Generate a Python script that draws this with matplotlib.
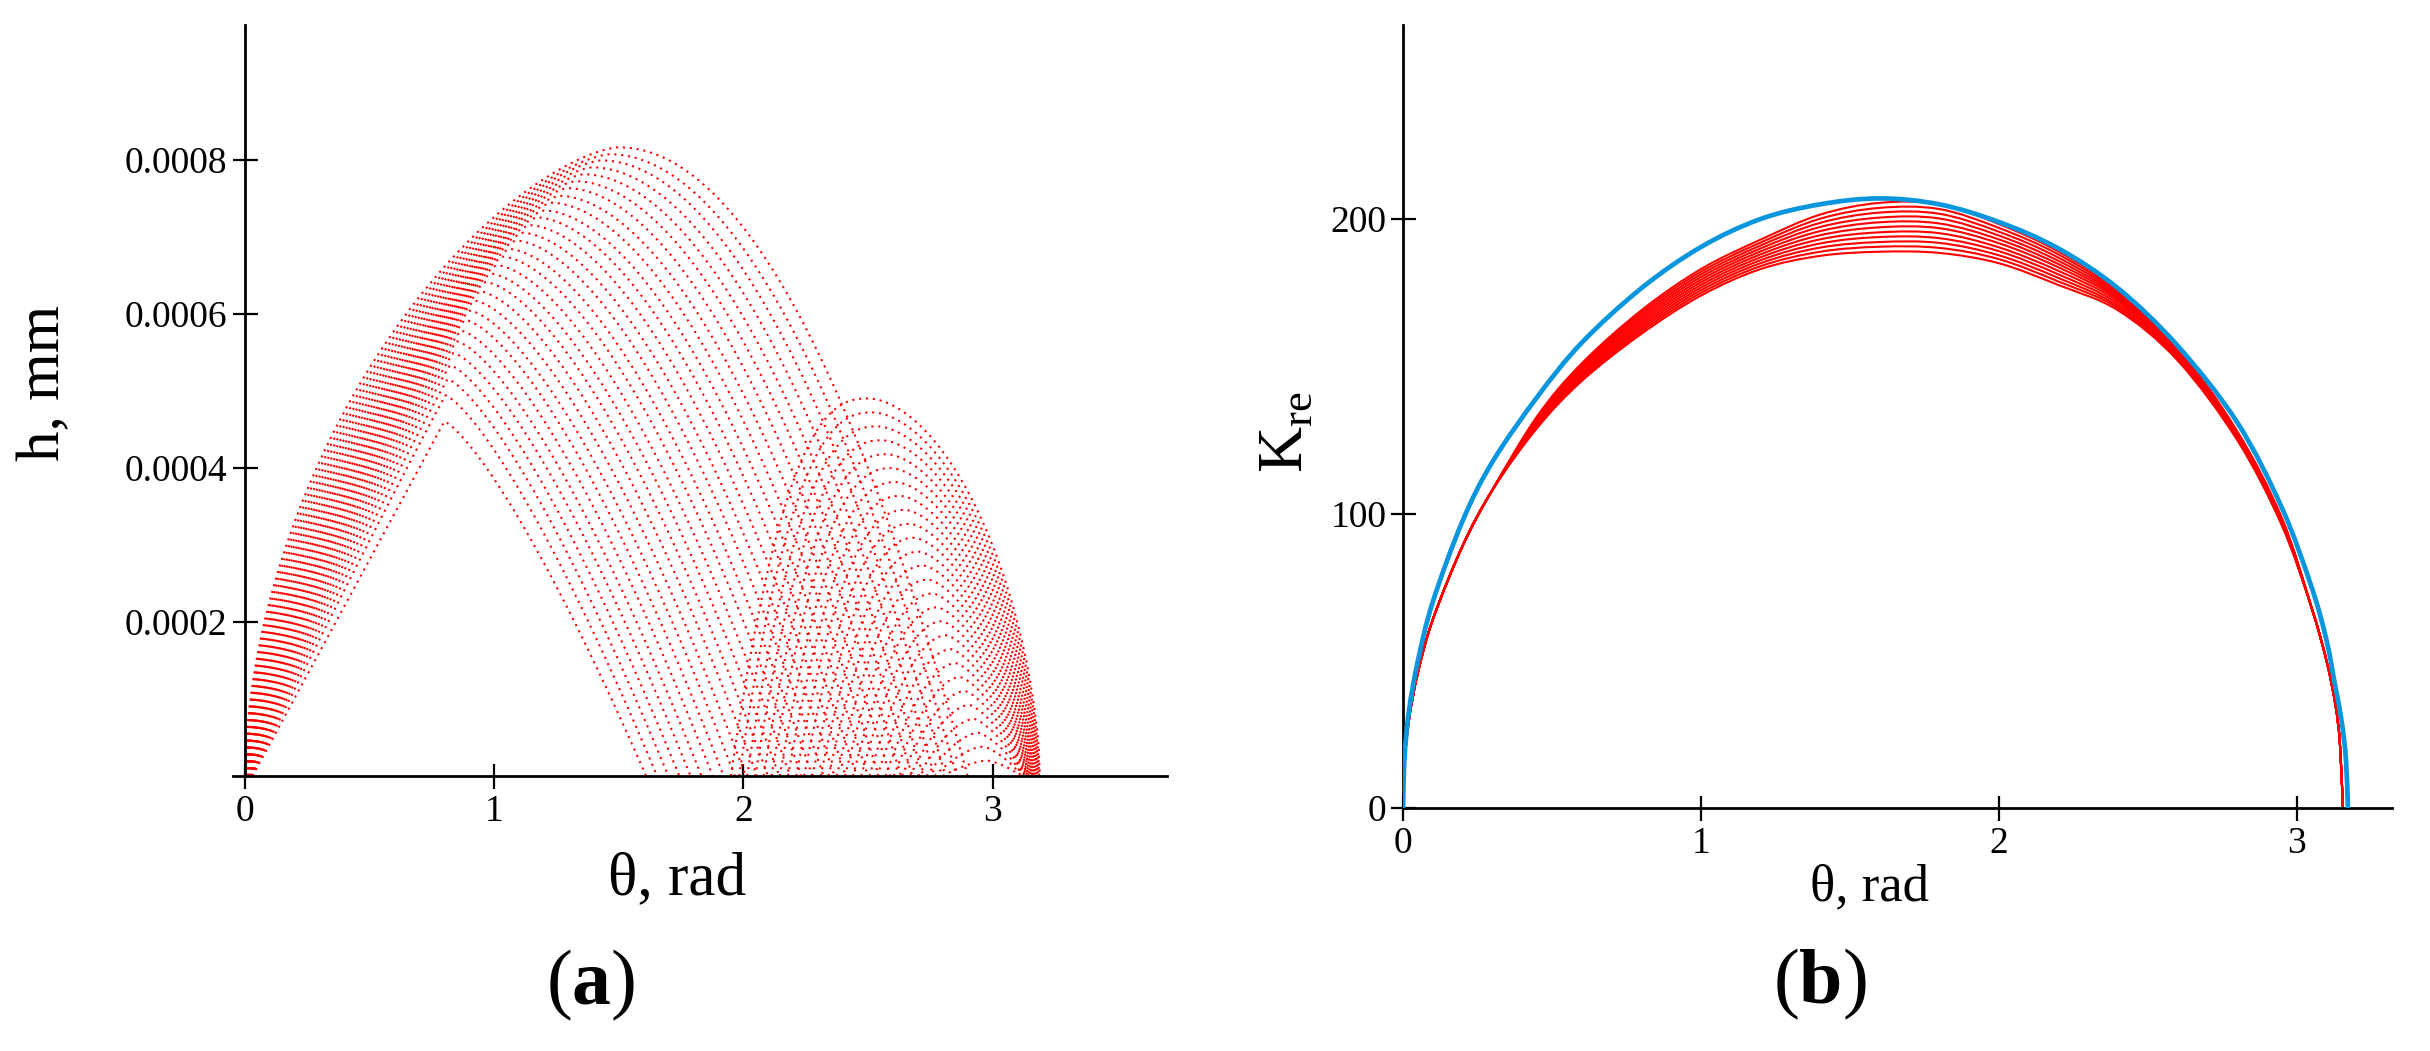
import numpy as np
import matplotlib
matplotlib.use("Agg")
import matplotlib.pyplot as plt
from matplotlib.path import Path
from matplotlib.patches import PathPatch

plt.rcParams["font.family"] = ["Liberation Serif", "DejaVu Serif"]
plt.rcParams["mathtext.fontset"] = "custom"
plt.rcParams["mathtext.rm"] = "Liberation Serif"
plt.rcParams["mathtext.bf"] = "Liberation Serif:bold"

# ==================================================
# DATA (a): h(theta)
# family A = humps that start at theta ~ 0 (lowest -> top)
# ==================================================
a_start = [0.030, 0.029, 0.028, 0.027, 0.026, 0.025, 0.024, 0.023, 0.022, 0.021,
           0.020, 0.019, 0.018, 0.017, 0.016, 0.015, 0.014, 0.013, 0.012, 0.011,
           0.010, 0.009, 0.008, 0.007, 0.006, 0.005, 0.004, 0.003, 0.001, 0.000]
a_peak_theta = [0.800, 0.804, 0.813, 0.823, 0.836, 0.850, 0.866, 0.883, 0.901, 0.921,
                0.942, 0.964, 0.986, 1.010, 1.035, 1.060, 1.087, 1.114, 1.142, 1.171,
                1.201, 1.231, 1.262, 1.294, 1.327, 1.360, 1.394, 1.429, 1.464, 1.500]
a_peak_h = [0.000460, 0.000494, 0.000515, 0.000533, 0.000549, 0.000564, 0.000578, 0.000592,
            0.000604, 0.000617, 0.000629, 0.000641, 0.000652, 0.000663, 0.000674, 0.000684,
            0.000695, 0.000705, 0.000715, 0.000725, 0.000734, 0.000744, 0.000753, 0.000763,
            0.000772, 0.000781, 0.000790, 0.000799, 0.000807, 0.000816]
a_end = [1.610, 1.654, 1.699, 1.743, 1.788, 1.832, 1.877, 1.921, 1.966, 2.010,
         2.055, 2.099, 2.144, 2.188, 2.233, 2.277, 2.322, 2.366, 2.411, 2.455,
         2.500, 2.544, 2.589, 2.633, 2.678, 2.722, 2.767, 2.811, 2.856, 2.900]

# family B = humps that end at theta ~ pi (lowest -> top)
b_start = [2.800, 2.767, 2.735, 2.702, 2.669, 2.637, 2.604, 2.571, 2.538, 2.506,
           2.473, 2.440, 2.408, 2.375, 2.342, 2.310, 2.277, 2.244, 2.212, 2.179,
           2.146, 2.113, 2.081, 2.048, 2.015, 1.983, 1.950]
b_peak_theta = [2.980, 2.962, 2.943, 2.925, 2.906, 2.888, 2.869, 2.851, 2.832, 2.814,
                2.795, 2.777, 2.758, 2.740, 2.722, 2.703, 2.685, 2.666, 2.648, 2.629,
                2.611, 2.592, 2.574, 2.555, 2.537, 2.518, 2.500]
b_peak_h = [0.0000200, 0.0000381, 0.0000561, 0.0000742, 0.0000923, 0.0001104, 0.0001285,
            0.0001465, 0.0001646, 0.0001827, 0.0002008, 0.0002189, 0.0002369, 0.0002550,
            0.0002731, 0.0002911, 0.0003092, 0.0003273, 0.0003454, 0.0003635, 0.0003815,
            0.0003996, 0.0004177, 0.0004358, 0.0004538, 0.0004719, 0.0004900]
b_end = [3.110, 3.113, 3.116, 3.119, 3.122, 3.125, 3.128, 3.132, 3.135, 3.138,
         3.141, 3.144, 3.147, 3.150, 3.153, 3.156, 3.159, 3.162, 3.165, 3.168,
         3.172, 3.175, 3.178, 3.181, 3.184, 3.187, 3.190]

# ==================================================
# DATA (b): K_re(theta)
# ==================================================
blue_theta = [0, 0.005, 0.02, 0.05, 0.1, 0.2, 0.3, 0.45, 0.6, 0.8, 1.0, 1.2, 1.4, 1.6,
              1.8, 2.0, 2.2, 2.4, 2.6, 2.8, 2.95, 3.05, 3.1, 3.13, 3.15, 3.165, 3.172]
blue_k = [0, 17, 33, 50, 70, 97.5, 117.5, 139.5, 158, 176.5, 190.5, 200, 205, 207,
          205, 199, 190, 176.5, 157, 131, 102, 75, 57, 41, 30, 17, 0]

red_left_theta = [0, 0.005, 0.02, 0.05, 0.1, 0.2, 0.3]
red_left_k = [0, 15, 30, 46, 64, 89, 108]
red_mid_theta = [0.45, 0.6, 0.8, 1.0, 1.2, 1.4, 1.6, 1.8, 2.0, 2.2, 2.4, 2.6, 2.8, 2.95]
red_mid_k = [
    [133.0, 151.0, 169.0, 183.0, 193.0, 201.5, 205.5, 205.0, 198.3, 189.0, 175.8, 156.4, 128.0, 98.5],
    [132.6, 150.4, 168.2, 182.1, 192.0, 200.1, 203.8, 203.4, 197.0, 188.0, 175.2, 156.1, 127.7, 98.3],
    [132.2, 149.8, 167.4, 181.2, 191.0, 198.7, 202.2, 201.8, 195.7, 186.9, 174.6, 155.7, 127.4, 98.0],
    [131.8, 149.2, 166.6, 180.3, 190.0, 197.3, 200.5, 200.2, 194.4, 185.8, 174.0, 155.3, 127.1, 97.8],
    [131.4, 148.6, 165.8, 179.4, 189.0, 195.9, 198.9, 198.5, 193.1, 184.7, 173.4, 154.9, 126.8, 97.5],
    [131.0, 148.0, 165.0, 178.5, 188.0, 194.5, 197.2, 196.9, 191.8, 183.6, 172.8, 154.5, 126.5, 97.3],
    [130.6, 147.4, 164.2, 177.6, 187.0, 193.1, 195.5, 195.2, 190.4, 182.4, 172.1, 154.1, 126.2, 97.0],
    [130.2, 146.8, 163.4, 176.7, 186.0, 191.7, 193.9, 193.5, 189.1, 181.2, 171.3, 153.7, 125.9, 96.8],
    [129.8, 146.2, 162.6, 175.8, 185.0, 190.3, 192.2, 191.9, 187.7, 180.0, 170.5, 153.2, 125.6, 96.5],
    [129.4, 145.6, 161.8, 174.9, 184.0, 188.9, 190.6, 190.2, 186.4, 178.8, 169.8, 152.6, 125.3, 96.3],
    [129.0, 145.0, 161.0, 174.0, 183.0, 187.5, 188.9, 188.5, 185.0, 177.6, 169.0, 152.0, 125.0, 96.0],
]
red_right_theta = [3.05, 3.1, 3.13, 3.145, 3.155]
red_right_k = [68, 50, 35, 22, 0]


def side(u, m, a):
    return (1 - (1 - u) ** m) ** a


def hump(s, p, hp, e, mL, aL, mR, aR, n=160):
    u = np.linspace(0, 1, n)
    xl = s + (p - s) * u
    yl = hp * side(u, mL, aL)
    u2 = np.linspace(1, 0, n)[1:]
    xr = e - (e - p) * u2
    yr = hp * side(u2, mR, aR)
    return np.r_[xl, xr], np.r_[yl, yr]


def smooth_path(xs, ys):
    # smooth curve through the read points (cubic Bezier segments)
    pts = np.column_stack([xs, ys]).astype(float)
    verts = [pts[0]]
    codes = [Path.MOVETO]
    for i in range(len(pts) - 1):
        p0 = pts[i - 1] if i > 0 else pts[i]
        p1 = pts[i]
        p2 = pts[i + 1]
        p3 = pts[i + 2] if i + 2 < len(pts) else pts[i + 1]
        verts += [p1 + (p2 - p0) / 6, p2 - (p3 - p1) / 6, p2]
        codes += [Path.CURVE4] * 3
    return Path(verts, codes)


fig = plt.figure(figsize=(24.3, 10.51), dpi=100)
ax1 = fig.add_axes([0.09588, 0.26165, 0.38436, 0.71456])
ax2 = fig.add_axes([0.57737, 0.23121, 0.40700, 0.74501])

# ---------- (a) ----------
dots = (0, (1, 2.3))
na = len(a_peak_h)
for i in range(na):
    t = i / (na - 1)
    x, y = hump(a_start[i], a_peak_theta[i], a_peak_h[i], a_end[i],
                1 + 0.5 * t, 1 - 0.45 * t, 1.3 + 0.7 * t, 1.0)
    ax1.plot(x, y, color="red", lw=1.5, linestyle=dots)

nb = len(b_peak_h)
for i in range(nb):
    t = i / (nb - 1)
    x, y = hump(b_start[i], b_peak_theta[i], b_peak_h[i], b_end[i],
                1.6 + 0.9 * t, 1.0, 1.3 + 0.5 * t, 0.8 - 0.2 * t)
    ax1.plot(x, y, color="red", lw=1.5, linestyle=dots)

# ---------- (b) ----------
for row in red_mid_k:
    pth = smooth_path(red_left_theta + red_mid_theta + red_right_theta,
                      red_left_k + row + red_right_k)
    ax2.add_patch(PathPatch(pth, fill=False, edgecolor="#ff0000", lw=1.5))
ax2.add_patch(PathPatch(smooth_path(blue_theta, blue_k), fill=False,
                        edgecolor="#0a96dc", lw=3.4, zorder=5))

# axes styling
for ax in (ax1, ax2):
    ax.spines["top"].set_visible(False)
    ax.spines["right"].set_visible(False)
    ax.spines["left"].set_linewidth(2)
    ax.spines["bottom"].set_linewidth(2)
    ax.tick_params(direction="inout", length=18, width=1.6, labelsize=27, pad=4)
    ax.set_xticks([0, 1, 2, 3])
    ax.set_xticklabels(["0", "1", "2", "3"])
    ax.patch.set_alpha(0)

ax1.set_xlim(-0.048, 3.70)
ax1.set_ylim(0, 0.0009747)
ax1.spines["left"].set_position(("data", 0))
ax1.set_yticks([0.0002, 0.0004, 0.0006, 0.0008])
ax1.set_yticklabels(["0.0002", "0.0004", "0.0006", "0.0008"])

ax2.set_xlim(0, 3.32)
ax2.set_ylim(0, 265.9)
ax2.set_yticks([0, 100, 200])
ax2.set_yticklabels(["0", "100", "200"])
ax2.tick_params(axis="y", pad=3)

fig.text(0.2786, 0.163, "θ, rad", fontsize=44, ha="center", va="center")
fig.text(0.0181, 0.6356, "h, mm", fontsize=44, ha="center", va="center", rotation=90)
fig.text(0.2432, 0.0628, r"$(\mathbf{a})$", fontsize=56, ha="center", va="center")

fig.text(0.7695, 0.156, "θ, rad", fontsize=38, ha="center", va="center")
fig.text(0.5296, 0.589, r"$\mathrm{K}_{\mathrm{re}}$", fontsize=46, ha="center",
         va="center", rotation=90)
fig.text(0.7490, 0.0637, r"$(\mathbf{b})$", fontsize=56, ha="center", va="center")

fig.savefig("out.png", dpi=100, facecolor="white")
